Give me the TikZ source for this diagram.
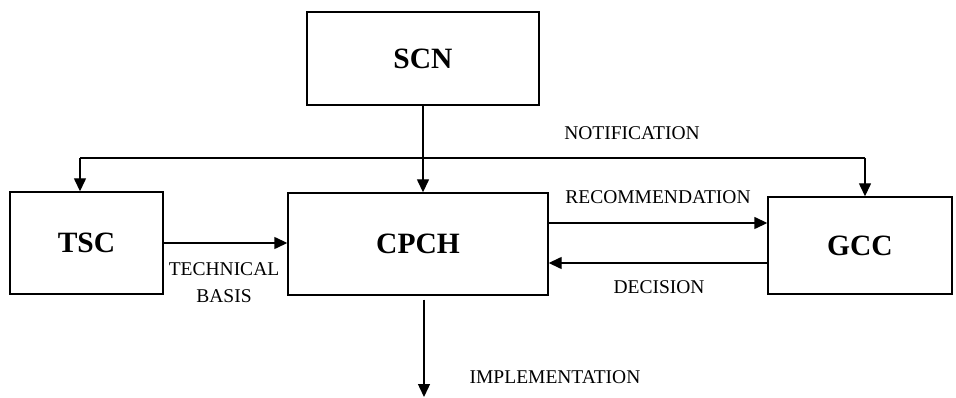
\documentclass[tikz,border=0pt]{standalone}
\usepackage{fontspec}
\setmainfont{Liberation Serif}
\usetikzlibrary{arrows.meta}
\begin{document}
\begin{tikzpicture}
    [%%%%%%%%%%%%%%%%%%%%%%%%%%%%%%
        x=1pt, y=-1pt,
        box/.style={rectangle,draw=black,line width=1.4pt,inner sep=0pt,
                    font=\fontsize{29.5}{32}\selectfont\bfseries},
        arr/.style={line width=1.4pt,-{Triangle[length=13pt,width=12pt]}},
        lbl/.style={font=\fontsize{19.5}{27}\selectfont,align=center,inner sep=0pt},
    ]%%%%%%%%%%%%%%%%%%%%%%%%%%%%%%
\useasboundingbox (0,0) rectangle (956,398);

\node[box,minimum width=232pt,minimum height=93pt] (scn) at (423,58.5){SCN};
\node[box,minimum width=153pt,minimum height=102pt] (tsc) at (86.5,243){TSC};
\node[box,minimum width=260pt,minimum height=102pt] (cpch) at (418,244){CPCH};
\node[box,minimum width=184pt,minimum height=97pt] (gcc) at (860,245.5){GCC};

\coordinate (nl) at (80,158);
\coordinate (nr) at (865,158);
\coordinate (out) at (424,397);

\draw[arr] (scn.south) -- (scn.south |- cpch.north);
\draw[line width=1.4pt] (nl) -- (nr);
\draw[arr] (nl) -- (nl |- tsc.north);
\draw[arr] (nr) -- (nr |- gcc.north);
\draw[arr] (tsc.east) -- (tsc.east -| cpch.west);
\draw[arr] ([yshift=21pt]cpch.east) -- ([yshift=21pt]cpch.east -| gcc.west);
\draw[arr] ([yshift=-17.5pt]gcc.west) -- ([yshift=-17.5pt]gcc.west -| cpch.east);
\draw[arr] ([yshift=-4pt]cpch.south -| out) -- (out);

\node[lbl] (notif) at (632,133){NOTIFICATION};
\node[lbl] (recom) at (658,197){RECOMMENDATION};
\node[lbl] (decis) at (659,287){DECISION};
\node[lbl] (techb) at (224,283){TECHNICAL\\BASIS};
\node[lbl] (impl) at (555,377){IMPLEMENTATION};
\end{tikzpicture}
\end{document}
